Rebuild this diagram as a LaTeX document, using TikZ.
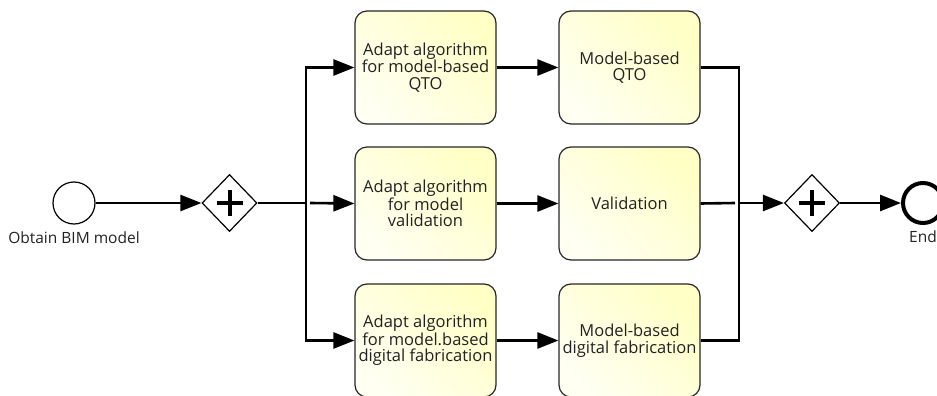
\documentclass[tikz,border=0pt]{standalone}
\usepackage{fontspec}
\setmainfont{Open Sans}
\usetikzlibrary{arrows.meta,shapes.geometric}
\definecolor{tasklight}{RGB}{255,255,242}
\definecolor{taskdark}{RGB}{255,255,198}
\definecolor{txt}{RGB}{34,34,34}
\begin{document}
\begin{tikzpicture}[x=1pt,y=-1pt,
 task/.style={draw=black!85, line width=1.2pt, rounded corners=12pt,
   minimum width=141pt, minimum height=113pt, align=center,
   font=\fontsize{16.5}{16.5}\selectfont, text=txt, inner sep=0pt,
   left color=tasklight, right color=taskdark, shading angle=135},
 gw/.style={draw, diamond, minimum width=55pt, minimum height=57pt,
   line width=1.2pt, fill=white, inner sep=0pt},
 flow/.style={line width=2.6pt, -{Triangle[length=21pt,width=16pt]}},
 plain/.style={line width=2.6pt},
 plus/.style={line width=4pt},
 lbl/.style={font=\fontsize{15.5}{16}\selectfont, text=txt, inner sep=0pt},
]
\useasboundingbox (0,0) rectangle (937,396);
\node[circle, draw, line width=1.2pt, minimum size=42pt, inner sep=0pt] (start) at (74,203) {};
\node[lbl] (startlbl) at (74,238) {Obtain BIM model};
\node[gw] (g1) at (229.5,203) {};
\draw[plus] ([xshift=-13pt]g1.center) -- ([xshift=13pt]g1.center);
\draw[plus] ([yshift=-13pt]g1.center) -- ([yshift=13pt]g1.center);

\node[task] (t1) at (425.5,67.5) {Adapt algorithm\\for model-based\\QTO};
\node[task] (t2) at (425.5,203.5) {Adapt algorithm\\for model\\validation};
\node[task] (t3) at (425.5,340.5) {Adapt algorithm\\for model.based\\digital fabrication};
\node[task] (u1) at (629.5,67.5) {Model-based\\QTO};
\node[task] (u2) at (629.5,203.5) {Validation};
\node[task] (u3) at (629.5,340.5) {Model-based\\digital fabrication};

\node[gw] (g2) at (812,203) {};
\draw[plus] ([xshift=-13pt]g2.center) -- ([xshift=13pt]g2.center);
\draw[plus] ([yshift=-13pt]g2.center) -- ([yshift=13pt]g2.center);

\node[circle, draw, line width=4pt, minimum size=40pt, inner sep=0pt] (end) at (923,203) {};
\node[lbl] (endlbl) at (923,237) {End};

\coordinate (s) at (306,203);
\coordinate (m) at (739,203);

\draw[flow] (start) -- (g1.west);
\draw[plain] (g1.east) -- (s);
\draw[flow] (s) |- (t1.west);
\draw[flow] (s) |- (t3.west);
\draw[flow] ([xshift=4pt]s) -- (t2.west);

\draw[flow] (t1) -- (u1);
\draw[flow] (t2) -- (u2);
\draw[flow] (t3) -- (u3);

\draw[plain] (u1.east) -| (m);
\draw[plain] (u3.east) -| (m);
\draw[plain] (u2.east) -- ([xshift=-4pt]m);
\draw[flow] (m) -- (g2.west);
\draw[flow] (g2.east) -- (end.west);
\end{tikzpicture}
\end{document}
